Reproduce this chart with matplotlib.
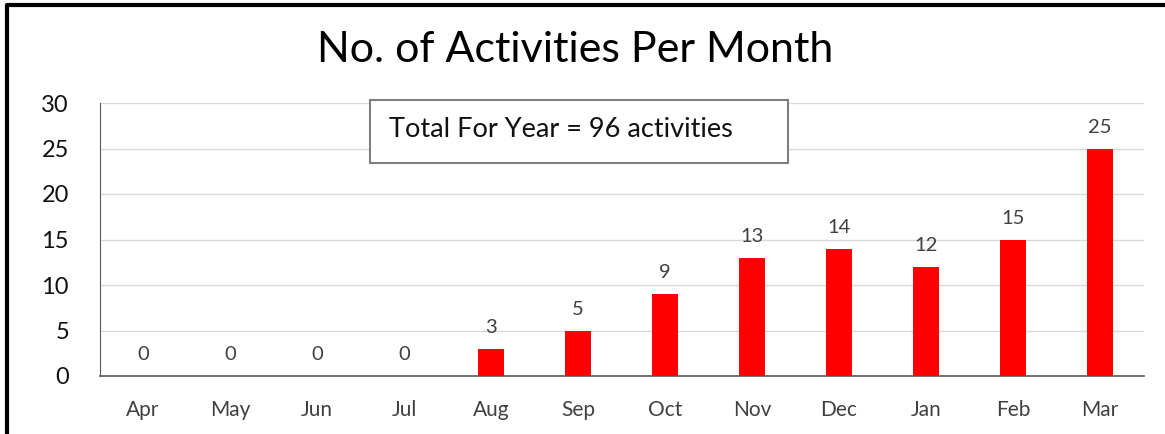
import matplotlib
matplotlib.use("Agg")
import matplotlib.pyplot as plt
from matplotlib.patches import Rectangle
from matplotlib.lines import Line2D

months = ["Apr", "May", "Jun", "Jul", "Aug", "Sep", "Oct", "Nov", "Dec", "Jan", "Feb", "Mar"]
activities = [0, 0, 0, 0, 3, 5, 9, 13, 14, 12, 15, 25]
yticks = [0, 5, 10, 15, 20, 25, 30]
total_text = "Total For Year = 96 activities"

plt.rcParams['font.family'] = ['Lato', 'DejaVu Sans']

W, H = 1165, 434
fig = plt.figure(figsize=(W / 100, H / 100), dpi=100)
ax = fig.add_axes([99.5 / W, 58 / H, 1044 / W, 273 / H])

x = range(len(months))
ax.bar(x, activities, width=0.31, color="#ff0000", zorder=3)
for i, v in zip(x, activities):
    ax.text(i, v + 1.4, str(v), ha="center", va="bottom", fontsize=14.5, color="#404040")

ax.set_xlim(-0.5, len(months) - 0.5)
ax.set_ylim(0, 30)
ax.set_yticks(yticks)
ax.set_yticklabels([str(t) for t in yticks], fontsize=17, color="#111111")
ax.set_xticks(list(x))
ax.set_xticklabels(months, fontsize=15, color="#404040")
ax.tick_params(axis="both", length=0)
ax.tick_params(axis="y", pad=22)
ax.tick_params(axis="x", pad=17)
ax.grid(axis="y", color="#d9d9d9", linewidth=1, zorder=0)
ax.set_axisbelow(True)
for s in ["top", "right"]:
    ax.spines[s].set_visible(False)
ax.spines["bottom"].set_color("#595959")
ax.spines["bottom"].set_linewidth(1.2)
ax.spines["left"].set_color("#595959")
ax.spines["left"].set_linewidth(0.8)

# title
fig.text(575 / W, 1 - 50 / H, "No. of Activities Per Month", ha="center", va="center",
         fontsize=31, color="#000000")

# total box
fig.patches.append(Rectangle((370 / W, 1 - 163 / H), 418 / W, 63 / H, transform=fig.transFigure,
                             facecolor="white", edgecolor="#7f7f7f", linewidth=1.5, zorder=5))
fig.text(389 / W, 1 - 130 / H, total_text, ha="left", va="center", fontsize=19.5,
         color="#111111", zorder=6)

# outer border (left and top)
fig.lines.append(Line2D([7 / W, 7 / W, 1], [0, 1 - 5 / H, 1 - 5 / H], transform=fig.transFigure,
                        color="black", linewidth=3))

fig.savefig("out.png", dpi=100)
